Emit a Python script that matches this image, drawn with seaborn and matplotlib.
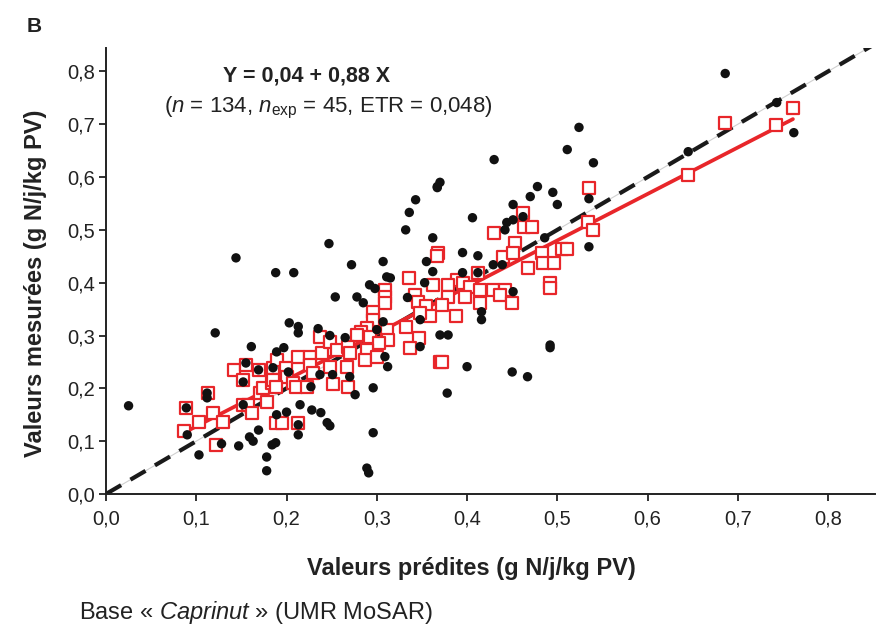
import numpy as np
import pandas as pd
import matplotlib
matplotlib.use("Agg")
import matplotlib.pyplot as plt
from matplotlib.ticker import FuncFormatter
from matplotlib import font_manager
import seaborn as sns

# ---------------- data ----------------
obs_x = [0.025, 0.089, 0.090, 0.103, 0.121, 0.112, 0.112, 0.128, 0.147, 0.144,
         0.159, 0.163, 0.169, 0.178, 0.178, 0.184, 0.188, 0.189, 0.161, 0.152,
         0.155, 0.169, 0.189, 0.188, 0.208, 0.247, 0.197, 0.203, 0.213, 0.213,
         0.235, 0.248, 0.185, 0.202, 0.227, 0.237, 0.251, 0.152, 0.215, 0.228,
         0.238, 0.245, 0.248, 0.200, 0.213, 0.213, 0.272, 0.307, 0.254, 0.278,
         0.285, 0.292, 0.298, 0.311, 0.315, 0.307, 0.300, 0.265, 0.309, 0.312,
         0.270, 0.276, 0.296, 0.296, 0.289, 0.291, 0.367, 0.370, 0.367, 0.343,
         0.336, 0.332, 0.362, 0.355, 0.362, 0.353, 0.334, 0.348, 0.348, 0.370,
         0.379, 0.378, 0.430, 0.478, 0.470, 0.495, 0.500, 0.451, 0.406, 0.451,
         0.462, 0.444, 0.442, 0.486, 0.395, 0.412, 0.429, 0.439, 0.395, 0.412,
         0.451, 0.416, 0.416, 0.492, 0.492, 0.400, 0.450, 0.467, 0.686, 0.743,
         0.762, 0.645, 0.524, 0.511, 0.540, 0.535, 0.535]
obs_y = [0.167, 0.163, 0.112, 0.074, 0.305, 0.191, 0.182, 0.095, 0.091, 0.447,
         0.108, 0.100, 0.121, 0.070, 0.044, 0.093, 0.097, 0.150, 0.279, 0.212,
         0.248, 0.235, 0.269, 0.419, 0.419, 0.474, 0.277, 0.324, 0.317, 0.305,
         0.313, 0.300, 0.239, 0.231, 0.203, 0.226, 0.226, 0.169, 0.169, 0.159,
         0.154, 0.135, 0.129, 0.155, 0.131, 0.112, 0.434, 0.440, 0.373, 0.373,
         0.362, 0.396, 0.389, 0.411, 0.409, 0.326, 0.311, 0.296, 0.260, 0.241,
         0.222, 0.188, 0.201, 0.116, 0.049, 0.040, 0.582, 0.590, 0.580, 0.557,
         0.533, 0.500, 0.485, 0.440, 0.421, 0.400, 0.372, 0.330, 0.279, 0.301,
         0.301, 0.191, 0.633, 0.582, 0.563, 0.571, 0.548, 0.548, 0.523, 0.519,
         0.525, 0.514, 0.500, 0.485, 0.457, 0.451, 0.434, 0.434, 0.419, 0.419,
         0.383, 0.345, 0.330, 0.282, 0.277, 0.241, 0.231, 0.222, 0.796, 0.741,
         0.684, 0.648, 0.694, 0.652, 0.627, 0.559, 0.468]

adj_x = [0.089, 0.086, 0.103, 0.118, 0.130, 0.122, 0.113, 0.142, 0.155, 0.152,
         0.169, 0.185, 0.152, 0.157, 0.162, 0.171, 0.178, 0.174, 0.184, 0.189,
         0.188, 0.195, 0.213, 0.199, 0.213, 0.226, 0.237, 0.248, 0.239, 0.226,
         0.248, 0.251, 0.185, 0.200, 0.207, 0.211, 0.223, 0.188, 0.229, 0.336,
         0.362, 0.309, 0.309, 0.309, 0.342, 0.346, 0.355, 0.359, 0.348, 0.296,
         0.296, 0.332, 0.289, 0.283, 0.278, 0.292, 0.311, 0.312, 0.303, 0.347,
         0.337, 0.248, 0.256, 0.268, 0.270, 0.289, 0.287, 0.300, 0.267, 0.268,
         0.370, 0.368, 0.367, 0.462, 0.463, 0.472, 0.430, 0.453, 0.440, 0.451,
         0.483, 0.484, 0.496, 0.467, 0.412, 0.389, 0.395, 0.379, 0.403, 0.414,
         0.429, 0.442, 0.436, 0.379, 0.398, 0.414, 0.450, 0.372, 0.388, 0.492,
         0.492, 0.372, 0.761, 0.742, 0.686, 0.645, 0.535, 0.534, 0.540, 0.505,
         0.511]
adj_y = [0.163, 0.119, 0.136, 0.154, 0.136, 0.093, 0.191, 0.235, 0.245, 0.216,
         0.235, 0.239, 0.169, 0.169, 0.154, 0.191, 0.174, 0.201, 0.210, 0.254,
         0.135, 0.135, 0.135, 0.239, 0.260, 0.260, 0.298, 0.273, 0.267, 0.245,
         0.241, 0.209, 0.216, 0.222, 0.210, 0.203, 0.203, 0.203, 0.229, 0.408,
         0.396, 0.387, 0.373, 0.362, 0.377, 0.364, 0.355, 0.336, 0.343, 0.345,
         0.330, 0.317, 0.315, 0.307, 0.301, 0.298, 0.311, 0.292, 0.286, 0.296,
         0.277, 0.288, 0.273, 0.279, 0.267, 0.273, 0.254, 0.260, 0.241, 0.203,
         0.250, 0.457, 0.451, 0.531, 0.506, 0.506, 0.495, 0.476, 0.449, 0.457,
         0.457, 0.438, 0.438, 0.428, 0.419, 0.406, 0.400, 0.396, 0.392, 0.387,
         0.387, 0.387, 0.377, 0.373, 0.373, 0.362, 0.362, 0.358, 0.336, 0.400,
         0.390, 0.250, 0.730, 0.698, 0.703, 0.603, 0.580, 0.514, 0.500, 0.464,
         0.464]

reg_coef = [0.04, 0.88]          # intercept, slope
tick_vals = [0.0, 0.1, 0.2, 0.3, 0.4, 0.5, 0.6, 0.7, 0.8]
axis_max = 0.852

eq_text = "Y = 0,04 + 0,88 X"
stat_text = r"($n$ = 134, $n_{\mathrm{exp}}$ = 45, ETR = 0,048)"
xlabel = "Valeurs prédites (g N/j/kg PV)"
ylabel = "Valeurs mesurées (g N/j/kg PV)"
panel = "B"
source = r"Base « $\mathit{Caprinut}$ » (UMR MoSAR)"

# ---------------- style ----------------
sns.set_style("ticks")
plt.rcParams['font.family'] = ['Liberation Sans', 'DejaVu Sans']
plt.rcParams['mathtext.fontset'] = 'custom'
plt.rcParams['mathtext.rm'] = 'Liberation Sans'
plt.rcParams['mathtext.it'] = 'Liberation Sans:italic'
plt.rcParams['mathtext.bf'] = 'Liberation Sans:bold'

installed = {f.name for f in font_manager.fontManager.ttflist}
narrow = 'Liberation Sans Narrow' if 'Liberation Sans Narrow' in installed else None

RED = "#e8262a"
INK = "#222222"

fig = plt.figure(figsize=(8.93, 6.30), dpi=100)
ax = fig.add_axes([0.1187, 0.2159, 0.8612, 0.7085])

df_obs = pd.DataFrame({"x": obs_x, "y": obs_y})
df_adj = pd.DataFrame({"x": adj_x, "y": adj_y})

# 1:1 line (thin grey + black dashed)
one = pd.DataFrame({"x": [0.0, axis_max], "y": [0.0, axis_max]})
sns.lineplot(data=one, x="x", y="y", ax=ax, color="#cfcfcf", lw=0.8, zorder=1)
sns.lineplot(data=one, x="x", y="y", ax=ax, color="#1a1a1a", lw=3.0,
             zorder=2).lines[-1].set_dashes([4.2, 2.6])

# regression line
xr = np.array([min(adj_x), max(adj_x)])
reg = pd.DataFrame({"x": xr, "y": reg_coef[0] + reg_coef[1] * xr})
sns.lineplot(data=reg, x="x", y="y", ax=ax, color=RED, lw=2.7, zorder=3)

sns.scatterplot(data=df_adj, x="x", y="y", ax=ax, marker="s", s=74,
                facecolor="white", edgecolor=RED, linewidth=1.6, zorder=4)
sns.scatterplot(data=df_obs, x="x", y="y", ax=ax, marker="o", s=46,
                color="#111111", edgecolor="none", linewidth=0, zorder=5)

ax.set_xlim(0, axis_max)
ax.set_ylim(0, 0.845)
ax.set_xticks(tick_vals)
ax.set_yticks(tick_vals)
fmt = FuncFormatter(lambda v, p: f"{v:.1f}".replace(".", ","))
ax.xaxis.set_major_formatter(fmt)
ax.yaxis.set_major_formatter(fmt)
for lab in ax.get_xticklabels() + ax.get_yticklabels():
    if narrow:
        lab.set_fontfamily([narrow, 'Liberation Sans'])
        lab.set_fontsize(16)
    else:
        lab.set_fontsize(14.5)
    lab.set_color(INK)
ax.tick_params(axis="both", direction="out", length=5, width=1.3, color=INK, pad=3)
ax.tick_params(axis="x", pad=6)

for s in ["top", "right"]:
    ax.spines[s].set_visible(False)
for s in ["left", "bottom"]:
    ax.spines[s].set_linewidth(1.4)
    ax.spines[s].set_color(INK)

ax.set_xlabel("")
ax.set_ylabel("")
fig.text(471 / 893, 1 - 569 / 630, xlabel, fontsize=17, fontweight="bold",
         color=INK, ha="center", va="center")
fig.text(36 / 893, 1 - 283 / 630, ylabel, fontsize=17, fontweight="bold",
         color=INK, ha="center", va="center", rotation=90)

ax.text(0.222, 0.792, eq_text, fontsize=15.5, fontweight="bold", ha="center",
        va="center", color=INK)
ax.text(0.246, 0.731, stat_text, fontsize=16, ha="center", va="center",
        color=INK)

fig.text(0.030, 0.958, panel, fontsize=15, fontweight="bold", color=INK,
         ha="left", va="center")
fig.text(0.089, 0.028, source, fontsize=17, color=INK, ha="left", va="center")

fig.savefig("out.png", dpi=100)
